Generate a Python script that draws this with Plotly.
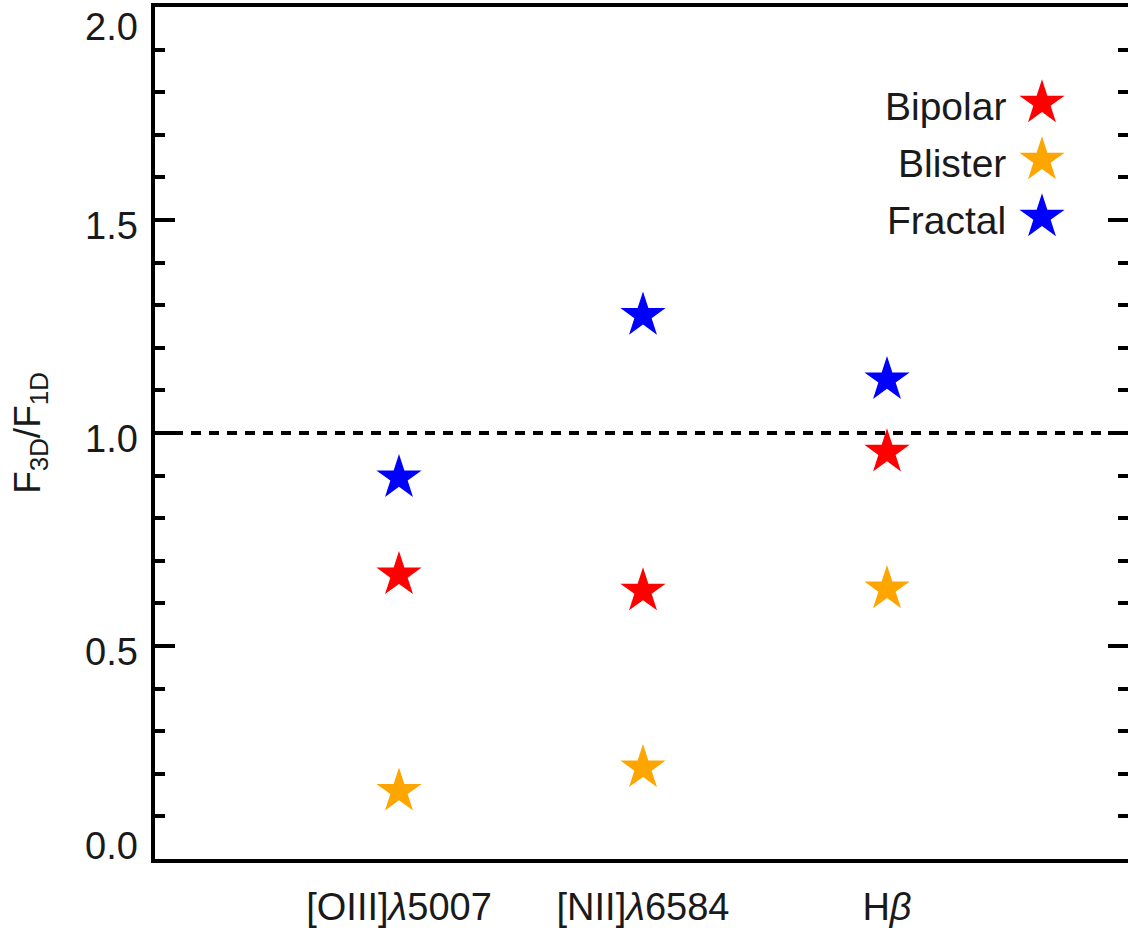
import plotly.graph_objects as go

# ---- data ----
lines = ["[OIII]<i>λ</i>5007", "[NII]<i>λ</i>6584", "H<i>β</i>"]
line_pos = [1, 2, 3]
series_names = ["Bipolar", "Blister", "Fractal"]
bipolar = [0.667, 0.629, 0.955]
blister = [0.159, 0.214, 0.634]
fractal = [0.895, 1.276, 1.125]
series_colors = ["#FF0000", "#FFA500", "#0000FF"]
ytick_vals = [0.0, 0.5, 1.0, 1.5, 2.0]
ytick_text = ["0.0", "0.5", "1.0", "1.5", "2.0"]
reference_level = 1.0

FONT = "Liberation Sans, Arial, Helvetica, sans-serif"
TXT = "#1a1a1a"

W, H = 1128, 938
ML, MT, MB = 155, 7, 79
plot_w = W - ML
px_per_unit = 244.0

fig = go.Figure()

for name, vals, col in zip(series_names, [bipolar, blister, fractal], series_colors):
    fig.add_trace(go.Scatter(
        x=line_pos, y=vals, mode="markers", name=name,
        marker=dict(symbol="star", size=34, color=col, line=dict(width=0)),
        showlegend=False, xaxis="x", yaxis="y",
    ))

# legend keys (stars on right, text on left) on a hidden overlay axis
leg_x = 0.9116
leg_y = [0.8873, 0.8204, 0.7535]
fig.add_trace(go.Scatter(
    x=[leg_x] * 3, y=leg_y, mode="markers",
    marker=dict(symbol="star", size=34, color=series_colors, line=dict(width=0)),
    showlegend=False, xaxis="x2", yaxis="y3", hoverinfo="skip",
))
for name, yy in zip(series_names, leg_y):
    fig.add_annotation(x=leg_x, y=yy, xref="x2", yref="y3", text=name,
                       showarrow=False, xanchor="right", yanchor="middle",
                       xshift=-34, yshift=-3,
                       font=dict(family=FONT, size=39, color=TXT))

# y tick labels (ends nudged inward as in the reference)
shifts = {0.0: 13, 0.5: -6, 1.0: -6, 1.5: -6, 2.0: -20}
for v, t in zip(ytick_vals, ytick_text):
    fig.add_annotation(x=0, y=v, xref="paper", yref="y", text=t, showarrow=False,
                       xanchor="right", yanchor="middle", xshift=-15, yshift=shifts[v],
                       font=dict(family=FONT, size=38, color=TXT))

fig.add_hline(y=reference_level, line=dict(color="black", width=4, dash="10px,8px"), layer="above")

fig.update_layout(
    width=W, height=H,
    margin=dict(l=ML, r=0, t=MT, b=MB, autoexpand=False),
    paper_bgcolor="white", plot_bgcolor="white",
    showlegend=False,
    font=dict(family=FONT, color=TXT),
    xaxis=dict(
        range=[0, plot_w / px_per_unit], tickvals=line_pos, ticktext=lines,
        showline=True, linewidth=4, linecolor="black", mirror=True,
        ticks="", showgrid=False, zeroline=False,
        tickfont=dict(family=FONT, size=38, color=TXT),
        ticklabelstandoff=11,
    ),
    yaxis=dict(
        range=[0, 2.0], tickvals=ytick_vals, showticklabels=False,
        showline=True, linewidth=4, linecolor="black", mirror=False,
        ticks="inside", ticklen=20, tickwidth=4, tickcolor="black",
        minor=dict(dtick=0.1, ticks="inside", ticklen=10, tickwidth=4, tickcolor="black"),
        showgrid=False, zeroline=False,
        title=dict(text="F<sub>3D</sub>/F<sub>1D</sub>", standoff=100,
                   font=dict(family=FONT, size=37, color=TXT)),
    ),
    yaxis2=dict(
        range=[0, 2.0], overlaying="y", side="right", anchor="x",
        tickvals=ytick_vals, showticklabels=False, showline=False,
        ticks="inside", ticklen=20, tickwidth=4, tickcolor="black",
        minor=dict(dtick=0.1, ticks="inside", ticklen=10, tickwidth=4, tickcolor="black"),
        showgrid=False, zeroline=False,
    ),
    xaxis2=dict(range=[0, 1], overlaying="x", visible=False, anchor="y3"),
    yaxis3=dict(range=[0, 1], overlaying="y", visible=False, anchor="x2"),
)

# dummy trace so yaxis2 draws its ticks
fig.add_trace(go.Scatter(x=[None], y=[None], xaxis="x", yaxis="y2", showlegend=False, hoverinfo="skip"))

fig.write_html("out.html")
